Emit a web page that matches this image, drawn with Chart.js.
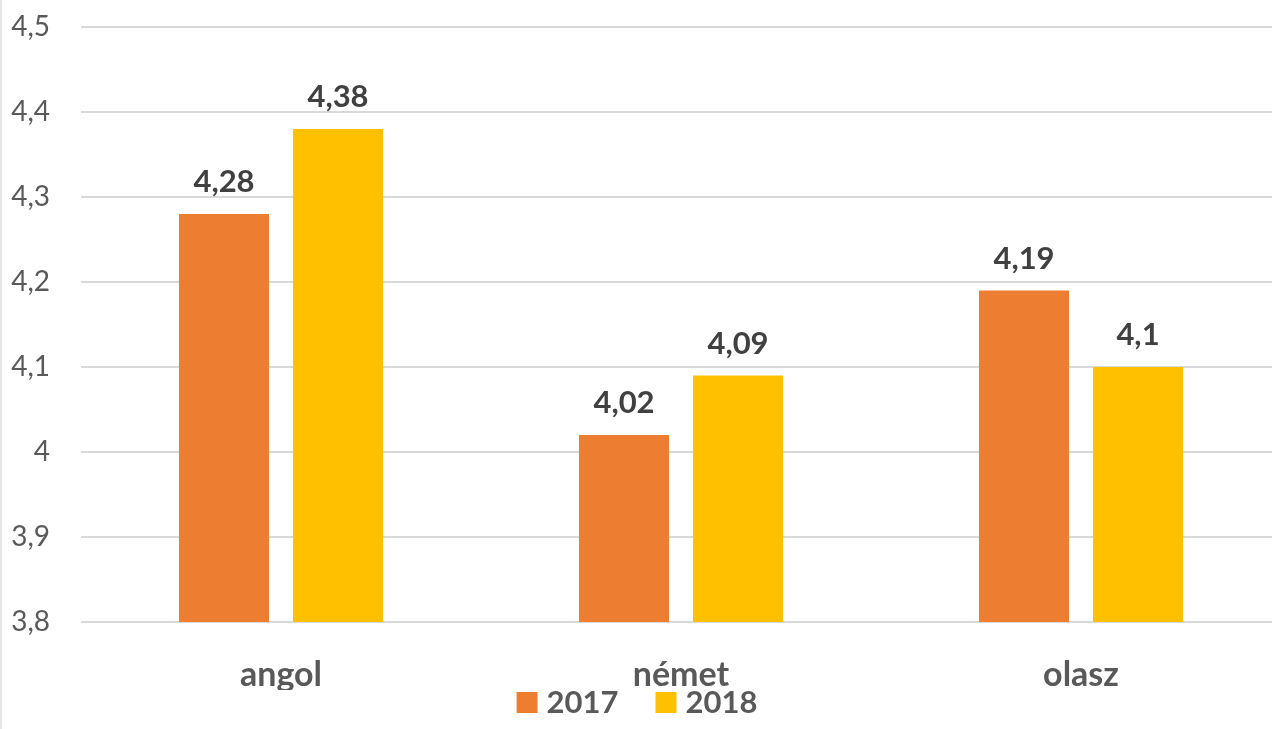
<!DOCTYPE html>
<html>
<head>
<meta charset="utf-8">
<script src="https://cdn.jsdelivr.net/npm/chart.js@4/dist/chart.umd.min.js"></script>
<style>
  html, body { margin: 0; padding: 0; background: #fff; overflow: hidden; width: 1272px; height: 729px; }
  #wrap { position: relative; width: 1282px; height: 729px; }
  #edge { position: absolute; left: 0; top: 0; width: 2px; height: 729px; background: #e6e6e6; }
</style>
</head>
<body>
<div id="wrap"><canvas id="c"></canvas><div id="edge"></div></div>
<script>
const categories = ['angol', 'német', 'olasz'];
const seriesNames = ['2017', '2018'];
const values2017 = [4.28, 4.02, 4.19];
const values2018 = [4.38, 4.09, 4.10];
const yMin = 3.8, yMax = 4.5, yStep = 0.1;

const FONT = 'Lato, "Open Sans", sans-serif';
const fmt = v => String(Math.round(v * 100) / 100).replace('.', ',');

const valueLabels = {
  id: 'valueLabels',
  afterDatasetsDraw(chart) {
    const ctx = chart.ctx;
    ctx.save();
    ctx.font = 'bold 31px ' + FONT;
    ctx.fillStyle = '#404040';
    ctx.textAlign = 'center';
    ctx.textBaseline = 'alphabetic';
    chart.data.datasets.forEach((ds, i) => {
      chart.getDatasetMeta(i).data.forEach((bar, j) => {
        ctx.fillText(fmt(ds.data[j]), bar.x, bar.y - 22);
      });
    });
    ctx.restore();
  }
};

// legend drawn below the category axis, items built from the datasets
const bottomLegend = {
  id: 'bottomLegend',
  afterDraw(chart) {
    const ctx = chart.ctx;
    ctx.save();
    ctx.font = 'bold 31px ' + FONT;
    ctx.textBaseline = 'alphabetic';
    ctx.textAlign = 'left';
    const box = 21, gapBoxText = 9, gapItems = 37;
    const items = chart.data.datasets.map(ds => ({
      text: ds.label, color: ds.backgroundColor, w: ctx.measureText(ds.label).width
    }));
    let total = 0;
    items.forEach((it, k) => { total += box + gapBoxText + it.w + (k ? gapItems : 0); });
    const cx = 637;
    let x = cx - total / 2;
    const baseline = 713;
    items.forEach(it => {
      ctx.fillStyle = it.color;
      ctx.fillRect(x, baseline - box, box, box);
      x += box + gapBoxText;
      ctx.fillStyle = '#595959';
      ctx.fillText(it.text, x, baseline);
      x += it.w + gapItems;
    });
    ctx.restore();
  }
};

new Chart(document.getElementById('c'), {
  type: 'bar',
  data: {
    labels: categories,
    datasets: [
      { label: seriesNames[0], data: values2017, backgroundColor: '#ED7D31' },
      { label: seriesNames[1], data: values2018, backgroundColor: '#FFC000' }
    ]
  },
  options: {
    responsive: true,
    maintainAspectRatio: false,
    animation: false,
    devicePixelRatio: 1,
    layout: { padding: { top: 27, left: 0, right: 1, bottom: 39 } },
    datasets: { bar: { categoryPercentage: 0.57, barPercentage: 0.79 } },
    plugins: {
      tooltip: { enabled: false },
      legend: { display: false }
    },
    scales: {
      x: {
        grid: { display: false, drawTicks: false },
        border: { display: false },
        ticks: {
          font: { family: FONT, size: 34, weight: 'bold' },
          color: '#595959',
          padding: 33
        },
        afterFit(s) { s.height = 68; }
      },
      y: {
        min: yMin, max: yMax,
        grid: { color: '#d9d9d9', lineWidth: 2, drawTicks: false },
        border: { display: false },
        ticks: {
          stepSize: yStep,
          font: { family: FONT, size: 28 },
          color: '#595959',
          padding: 31,
          callback: v => fmt(v)
        },
        afterFit(s) { s.width = 81; s.paddingTop = 0; s.paddingBottom = 0; }
      }
    }
  },
  plugins: [valueLabels, bottomLegend]
});
</script>
</body>
</html>
